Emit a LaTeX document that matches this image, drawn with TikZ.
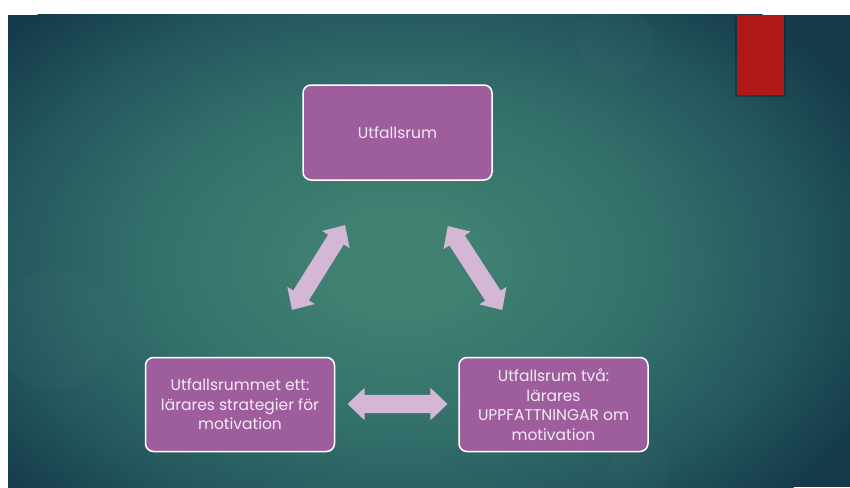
\documentclass[tikz,border=0pt]{standalone}
\usepackage{fontspec}
\setmainfont{Poppins}
\usetikzlibrary{shapes.arrows}

\definecolor{bgA}{HTML}{3F8071}
\definecolor{bgB}{HTML}{33706B}
\definecolor{bgC}{HTML}{24585E}
\definecolor{bgD}{HTML}{153B4B}
\definecolor{boxfill}{HTML}{9E5E9E}
\definecolor{arrowfill}{HTML}{D4B7D5}
\definecolor{txt}{HTML}{F4EAF4}
\definecolor{redbar}{HTML}{B01818}

\pgfdeclareradialshading{bgshade}{\pgfpoint{0bp}{0bp}}{color(0bp)=(bgA); color(4bp)=(bgA); color(12bp)=(bgB); color(19bp)=(bgC); color(25bp)=(bgD); color(50bp)=(bgD)}

\begin{document}
\begin{tikzpicture}[x=1pt,y=-1pt,
  box/.style={draw=white, line width=1.5pt, rounded corners=8pt, fill=boxfill, text=txt, align=center, font=\fontsize{15.5}{19.5}\selectfont, minimum width=189pt, minimum height=94pt, inner sep=2pt},
  dbl/.style={double arrow, fill=arrowfill, draw=none, minimum height=100pt, minimum width=32pt, double arrow head extend=7pt, inner xsep=0pt, inner ysep=9pt, double arrow tip angle=87}
]
\useasboundingbox (0,0) rectangle (850,487);
\fill[white] (0,0) rectangle (850,487);
\begin{scope}
  \clip (8,15) rectangle (850,487);
  \fill[bgD] (8,15) rectangle (850,487);
  \shade[shading=bgshade] (400,262) ellipse [x radius=520, y radius=345];
  \fill[white, opacity=0.015] (615,42) circle (38);
  \fill[white, opacity=0.015] (55,330) circle (60);
  \fill[white, opacity=0.015] (640,470) circle (30);
  \fill[black, opacity=0.22] (735,15) rectangle (785.5,96.5);
\end{scope}
\node[fill=redbar, minimum width=47pt, minimum height=80pt, inner sep=0pt, anchor=north west] (bar) at (737,15) {};

\node[box, minimum height=95pt] (top) at (397.5,132.5) {Utfallsrum};
\node[box] (left) at (240,404.5) {Utfallsrummet ett:\\lärares strategier för\\motivation};
\node[box] (right) at (553.5,404.5) {Utfallsrum två:\\lärares\\UPPFATTNINGAR om\\motivation};

\node[dbl, rotate=58] (aL) at (318.5,267.5) {};
\node[dbl, rotate=-57] (aR) at (475,268) {};
\node[dbl] (aB) at (397.5,404) {};
\end{tikzpicture}
\end{document}
